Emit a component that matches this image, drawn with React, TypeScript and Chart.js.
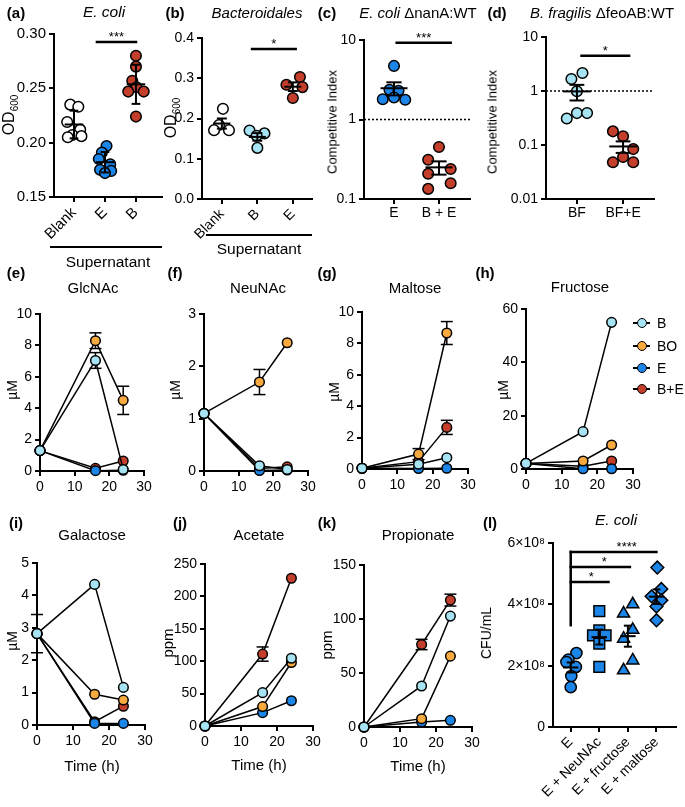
import React, { useEffect, useRef } from 'react';
import { Chart, registerables } from 'chart.js';

Chart.register(...registerables);

const W = 685;
const H = 807;
const FONT = "'Liberation Sans', Arial, Helvetica, sans-serif";

// ---------------- colours ----------------
const C_W = '#ffffff';
const C_B = '#a7e4f3';
const C_BO = '#f8aa3e';
const C_E = '#1b85e8';
const C_BE = '#c43f2b';

// ---------------- data: panel (a) ----------------
const catsA = ['Blank', 'E', 'B'];
const ticksA = [0.15, 0.2, 0.25, 0.3];
const aBlank = [0.235, 0.233, 0.219, 0.212, 0.207, 0.206, 0.205];
const aBlankJit = [-0.12, 0.14, -0.22, 0.2, -0.05, 0.24, -0.2];
const aE = [0.197, 0.191, 0.185, 0.18, 0.175, 0.174, 0.172];
const aEJit = [0.05, -0.1, -0.2, 0.17, -0.16, 0.2, 0.0];
const aB = [0.28, 0.27, 0.257, 0.251, 0.247, 0.247, 0.224];
const aBJit = [0, 0, -0.12, 0.02, -0.25, 0.25, 0];

// ---------------- data: panel (b) ----------------
const catsB = ['Blank', 'B', 'E'];
const ticksB = [0, 0.1, 0.2, 0.3, 0.4];
const bBlank = [0.224, 0.184, 0.171, 0.171];
const bBlankJit = [0.03, -0.08, -0.22, 0.2];
const bB = [0.17, 0.163, 0.127, 0.157];
const bBJit = [-0.22, 0.2, 0, -0.02];
const bE = [0.303, 0.284, 0.278, 0.251];
const bEJit = [0.2, -0.18, 0.27, 0.0];

// ---------------- data: panel (c) ----------------
const catsC = ['E', 'B + E'];
const ticksC = [0.1, 1, 10];
const cE = [4.72, 2.36, 2.3, 1.8, 1.89, 1.77];
const cEJit = [0, -0.1, 0.1, -0.25, 0, 0.25];
const cBE = [0.45, 0.312, 0.238, 0.208, 0.158, 0.134];
const cBEJit = [0, -0.24, 0.26, -0.24, 0.26, -0.24];

// ---------------- data: panel (d) ----------------
const catsD = ['BF', 'BF+E'];
const ticksD = [0.01, 0.1, 1, 10];
const dBF = [1.67, 2.15, 0.99, 0.31, 0.39, 0.39];
const dBFJit = [-0.12, 0.12, 0, -0.22, 0, 0.22];
const dBFE = [0.179, 0.145, 0.084, 0.06, 0.048, 0.048];
const dBFEJit = [-0.22, 0, 0.22, 0, -0.22, 0.22];

// ---------------- data: time courses (e)-(k) ----------------
const times = [0, 16, 24];
const timeTicks = [0, 10, 20, 30];
const seriesNames = ['B', 'BO', 'E', 'B+E'];

const glcB = [1.3, 7.04, 0.1];
const glcBO = [1.3, 8.3, 4.5];
const glcE = [1.3, 0.02, 0.05];
const glcBE = [1.3, 0.17, 0.64];
const glcBOErr = [0, 0.5, 0.9];
const glcBErr = [0, 0.5, 0];
const glcTicks = [0, 2, 4, 6, 8, 10];

const neuB = [1.1, 0.1, 0.03];
const neuBO = [1.1, 1.7, 2.45];
const neuE = [1.1, 0.01, 0.02];
const neuBE = [1.1, 0.05, 0.08];
const neuBOErr = [0, 0.24, 0];
const neuTicks = [0, 1, 2, 3];

const malB = [0.05, 0.3, 0.72];
const malBO = [0.05, 0.95, 8.66];
const malE = [0.05, 0.03, 0.05];
const malBE = [0.05, 0.47, 2.65];
const malBOErr = [0, 0.35, 0.73];
const malBEErr = [0, 0, 0.45];
const malTicks = [0, 2, 4, 6, 8, 10];

const fruB = [2.1, 14, 55];
const fruBO = [2.1, 3.0, 9.0];
const fruE = [2.1, 0.1, 0.1];
const fruBE = [2.1, 1.0, 3.0];
const fruTicks = [0, 20, 40, 60];

const galB = [2.82, 4.34, 1.16];
const galBO = [2.82, 0.95, 0.77];
const galE = [2.82, 0.05, 0.05];
const galBE = [2.82, 0.1, 0.58];
const galBErr = [0.59, 0, 0];
const galTicks = [0, 1, 2, 3, 4, 5];

const aceB = [0, 51.5, 104.6];
const aceBO = [0, 30, 98];
const aceE = [0, 20.6, 39];
const aceBE = [0, 111, 228];
const aceBEErr = [0, 11, 0];
const aceTicks = [0, 50, 100, 150, 200, 250];

const proB = [0, 38, 102.7];
const proBO = [0, 7.7, 65.6];
const proE = [0, 4.6, 6.2];
const proBE = [0, 76.4, 117.5];
const proBEErr = [0, 4.8, 5.5];
const proTicks = [0, 50, 100, 150];

// ---------------- data: panel (l) ----------------
const catsL = ['E', 'E + NeuNAc', 'E + fructose', 'E + maltose'];
const ticksL = [0, 2e8, 4e8, 6e8];
const ticksLLabels = ['0', '2×10⁸', '4×10⁸', '6×10⁸'];
const lE = [2.41e8, 2.2e8, 2.12e8, 1.96e8, 1.66e8, 1.3e8];
const lEJit = [0.2, -0.08, -0.15, 0.18, 0.02, 0.0];
const lNeu = [3.78e8, 3.15e8, 2.99e8, 2.99e8, 2.72e8, 1.96e8];
const lNeuJit = [0, 0, -0.22, 0.22, 0, 0];
const lFru = [4.0e8, 3.7e8, 3.17e8, 2.88e8, 2.17e8, 1.85e8];
const lFruJit = [0.17, -0.15, 0.17, -0.15, 0.17, -0.15];
const lMal = [5.2e8, 4.5e8, 4.26e8, 4.13e8, 3.93e8, 3.48e8];
const lMalJit = [0.03, 0.17, -0.17, 0.17, 0, 0];

// ---------------- types ----------------
type Rect = { l: number; t: number; r: number; b: number };
interface Group { values: number[]; jitter: number[]; fill: string; style: string; radius: number }
interface Sig { x1: number; x2: number; y: number; text: string; tx?: number }
interface ScatterSpec {
  rect: Rect; cats: string[]; xMin: number; xMax: number;
  yType: 'linear' | 'logarithmic'; yMin: number; yMax: number; yTicks: number[]; yLabel: (v: number) => string;
  rotate: boolean; tickSize: number; groups: Group[]; err: 'sd' | 'sem';
  sigs: Sig[]; ref?: number; leg?: { x: number; y1: number; y2: number };
  meanHalf: number; capHalf: number; xPad: number;
}
interface Series { values: number[]; err: number[]; color: string }
interface TimeSpec { rect: Rect; yMax: number; yTicks: number[]; series: Series[] }

const zero = [0, 0, 0];

const yWidth = (rc: Rect) => Math.min(rc.l, 52);
const xHeight = (rc: Rect) => Math.min(80, H - rc.b);

function padFor(rc: Rect) {
  return { left: rc.l - yWidth(rc), top: rc.t, right: W - rc.r, bottom: H - rc.b - xHeight(rc) };
}

const borderOpt = { display: true, color: '#000', width: 2 };
const gridOpt = { display: true, drawOnChartArea: false, drawTicks: true, tickLength: 5, color: '#000', lineWidth: 2 };

function seg(ctx: CanvasRenderingContext2D, x1: number, y1: number, x2: number, y2: number) {
  ctx.beginPath();
  ctx.moveTo(x1, y1);
  ctx.lineTo(x2, y2);
  ctx.stroke();
}

function scatterConfig(s: ScatterSpec): any {
  const datasets = s.groups.map((g, gi) => ({
    data: g.values.map((v, k) => ({ x: gi + g.jitter[k], y: v })),
    showLine: false,
    pointStyle: g.style,
    pointRadius: g.radius,
    pointBackgroundColor: g.fill,
    pointBorderColor: '#000',
    pointBorderWidth: 1.5,
    clip: false,
  }));
  const plugin = {
    id: 'scatterExtras',
    beforeDatasetsDraw(chart: any) {
      if (s.ref == null) return;
      const { ctx, chartArea, scales } = chart;
      const yp = scales.y.getPixelForValue(s.ref);
      ctx.save();
      ctx.strokeStyle = '#000';
      ctx.lineWidth = 1.5;
      ctx.setLineDash([2, 2]);
      seg(ctx, chartArea.left, yp, chartArea.right, yp);
      ctx.restore();
    },
    afterDatasetsDraw(chart: any) {
      const { ctx } = chart;
      const x = chart.scales.x;
      const y = chart.scales.y;
      ctx.save();
      ctx.strokeStyle = '#000';
      ctx.lineWidth = 2;
      s.groups.forEach((g, gi) => {
        const n = g.values.length;
        const mean = g.values.reduce((a, b) => a + b, 0) / n;
        const sd = Math.sqrt(g.values.reduce((a, b) => a + (b - mean) * (b - mean), 0) / (n - 1));
        const e = s.err === 'sd' ? sd : sd / Math.sqrt(n);
        const cx = x.getPixelForValue(gi);
        const mw = x.getPixelForValue(gi + s.meanHalf) - cx;
        const cw = x.getPixelForValue(gi + s.capHalf) - cx;
        const ym = y.getPixelForValue(mean);
        const yt = y.getPixelForValue(mean + e);
        const yb = y.getPixelForValue(mean - e);
        seg(ctx, cx - mw, ym, cx + mw, ym);
        seg(ctx, cx, yt, cx, yb);
        seg(ctx, cx - cw, yt, cx + cw, yt);
        seg(ctx, cx - cw, yb, cx + cw, yb);
      });
      ctx.lineWidth = 2.5;
      ctx.lineCap = 'square';
      if (s.leg) {
        const lx = x.getPixelForValue(s.leg.x);
        seg(ctx, lx, y.getPixelForValue(s.leg.y1), lx, y.getPixelForValue(s.leg.y2));
      }
      ctx.fillStyle = '#000';
      ctx.font = `13px ${FONT}`;
      ctx.textAlign = 'center';
      ctx.textBaseline = 'alphabetic';
      s.sigs.forEach((sg) => {
        const x1 = x.getPixelForValue(sg.x1);
        const x2 = x.getPixelForValue(sg.x2);
        const yp = y.getPixelForValue(sg.y);
        seg(ctx, x1, yp, x2, yp);
        const tx = sg.tx != null ? x.getPixelForValue(sg.tx) : (x1 + x2) / 2;
        ctx.fillText(sg.text, tx, yp - 1);
      });
      ctx.restore();
    },
  };
  return {
    type: 'scatter',
    data: { datasets },
    options: {
      responsive: false,
      animation: false,
      devicePixelRatio: 1,
      events: [],
      layout: { padding: padFor(s.rect) },
      plugins: { legend: { display: false }, tooltip: { enabled: false }, title: { display: false } },
      scales: {
        x: {
          type: 'linear',
          min: s.xMin,
          max: s.xMax,
          border: borderOpt,
          grid: gridOpt,
          ticks: {
            color: '#000',
            font: { family: FONT, size: s.tickSize },
            autoSkip: false,
            padding: s.xPad,
            minRotation: s.rotate ? 45 : 0,
            maxRotation: s.rotate ? 45 : 0,
            callback: (v: number) => s.cats[Math.round(v)] ?? '',
          },
          afterBuildTicks: (ax: any) => { ax.ticks = s.cats.map((_, i) => ({ value: i })); },
          afterFit: (ax: any) => { ax.height = xHeight(s.rect); },
        },
        y: {
          type: s.yType,
          min: s.yMin,
          max: s.yMax,
          border: borderOpt,
          grid: gridOpt,
          ticks: {
            color: '#000',
            font: { family: FONT, size: s.tickSize },
            autoSkip: false,
            padding: 3,
            callback: (v: number) => s.yLabel(v),
          },
          afterBuildTicks: (ax: any) => { ax.ticks = s.yTicks.map((v) => ({ value: v })); },
          afterFit: (ax: any) => { ax.width = yWidth(s.rect); },
        },
      },
    },
    plugins: [plugin],
  };
}

function timeConfig(t: TimeSpec): any {
  const datasets = t.series.map((s) => ({
    data: times.map((tm, k) => ({ x: tm, y: s.values[k] })),
    borderColor: '#000',
    borderWidth: 1.5,
    tension: 0,
    fill: false,
    pointRadius: 4.8,
    pointBackgroundColor: s.color,
    pointBorderColor: '#000',
    pointBorderWidth: 1.5,
    clip: false,
  }));
  const plugin = {
    id: 'errBars',
    beforeDatasetsDraw(chart: any) {
      const { ctx } = chart;
      const x = chart.scales.x;
      const y = chart.scales.y;
      ctx.save();
      ctx.strokeStyle = '#000';
      ctx.lineWidth = 1.5;
      t.series.forEach((s) =>
        s.err.forEach((e, k) => {
          if (!e) return;
          const cx = x.getPixelForValue(times[k]);
          const yt = y.getPixelForValue(s.values[k] + e);
          const yb = y.getPixelForValue(s.values[k] - e);
          seg(ctx, cx, yt, cx, yb);
          seg(ctx, cx - 6, yt, cx + 6, yt);
          seg(ctx, cx - 6, yb, cx + 6, yb);
        })
      );
      ctx.restore();
    },
  };
  return {
    type: 'line',
    data: { datasets },
    options: {
      responsive: false,
      animation: false,
      devicePixelRatio: 1,
      events: [],
      layout: { padding: padFor(t.rect) },
      plugins: { legend: { display: false }, tooltip: { enabled: false }, title: { display: false } },
      scales: {
        x: {
          type: 'linear',
          min: 0,
          max: 30,
          border: borderOpt,
          grid: gridOpt,
          ticks: { color: '#000', font: { family: FONT, size: 14 }, autoSkip: false, padding: 3, maxRotation: 0, minRotation: 0 },
          afterBuildTicks: (ax: any) => { ax.ticks = timeTicks.map((v) => ({ value: v })); },
          afterFit: (ax: any) => { ax.height = xHeight(t.rect); },
        },
        y: {
          type: 'linear',
          min: 0,
          max: t.yMax,
          border: borderOpt,
          grid: gridOpt,
          ticks: { color: '#000', font: { family: FONT, size: 14 }, autoSkip: false, padding: 3 },
          afterBuildTicks: (ax: any) => { ax.ticks = t.yTicks.map((v) => ({ value: v })); },
          afterFit: (ax: any) => { ax.width = yWidth(t.rect); },
        },
      },
    },
    plugins: [plugin],
  };
}

function four(b: number[], bo: number[], e: number[], be: number[], errs: number[][]): Series[] {
  return [
    { values: b, err: errs[0], color: C_B },
    { values: bo, err: errs[1], color: C_BO },
    { values: e, err: errs[2], color: C_E },
    { values: be, err: errs[3], color: C_BE },
  ];
}

const fmt2 = (v: number) => v.toFixed(2);
const fmt1 = (v: number) => v.toFixed(1);
const fmtLog = (v: number) => String(v);
const fmtL = (v: number) => ticksLLabels[ticksL.indexOf(v)] ?? '';

const configs: (() => any)[] = [
  () => scatterConfig({
    rect: { l: 54, t: 34, r: 162, b: 197 }, cats: catsA, xMin: -0.645, xMax: 2.84,
    yType: 'linear', yMin: 0.15, yMax: 0.3, yTicks: ticksA, yLabel: fmt2, rotate: true, tickSize: 15,
    groups: [
      { values: aBlank, jitter: aBlankJit, fill: C_W, style: 'circle', radius: 5.3 },
      { values: aE, jitter: aEJit, fill: C_E, style: 'circle', radius: 5.3 },
      { values: aB, jitter: aBJit, fill: C_BE, style: 'circle', radius: 5.3 },
    ],
    err: 'sd', sigs: [{ x1: 0.74, x2: 2.0, y: 0.2926, text: '***' }], meanHalf: 0.3, capHalf: 0.14, xPad: 2,
  }),
  () => scatterConfig({
    rect: { l: 202, t: 38, r: 312, b: 199 }, cats: catsB, xMin: -0.56, xMax: 2.54,
    yType: 'linear', yMin: 0, yMax: 0.4, yTicks: ticksB, yLabel: fmt1, rotate: true, tickSize: 14,
    groups: [
      { values: bBlank, jitter: bBlankJit, fill: C_W, style: 'circle', radius: 5.3 },
      { values: bB, jitter: bBJit, fill: C_B, style: 'circle', radius: 5.3 },
      { values: bE, jitter: bEJit, fill: C_BE, style: 'circle', radius: 5.3 },
    ],
    err: 'sem', sigs: [{ x1: 0.85, x2: 2.08, y: 0.3727, text: '*' }], meanHalf: 0.24, capHalf: 0.14, xPad: 2,
  }),
  () => scatterConfig({
    rect: { l: 364, t: 40, r: 470, b: 199 }, cats: catsC, xMin: -0.667, xMax: 1.69,
    yType: 'logarithmic', yMin: 0.1, yMax: 10, yTicks: ticksC, yLabel: fmtLog, rotate: false, tickSize: 14,
    groups: [
      { values: cE, jitter: cEJit, fill: C_E, style: 'circle', radius: 5.3 },
      { values: cBE, jitter: cBEJit, fill: C_BE, style: 'circle', radius: 5.3 },
    ],
    err: 'sem', sigs: [{ x1: 0.06, x2: 1.26, y: 9.26, text: '***' }], ref: 1, meanHalf: 0.3, capHalf: 0.17, xPad: 1,
  }),
  () => scatterConfig({
    rect: { l: 546, t: 37, r: 654, b: 199 }, cats: catsD, xMin: -0.67, xMax: 1.67,
    yType: 'logarithmic', yMin: 0.01, yMax: 10, yTicks: ticksD, yLabel: fmtLog, rotate: false, tickSize: 14,
    groups: [
      { values: dBF, jitter: dBFJit, fill: C_B, style: 'circle', radius: 5.3 },
      { values: dBFE, jitter: dBFEJit, fill: C_BE, style: 'circle', radius: 5.3 },
    ],
    err: 'sem', sigs: [{ x1: 0.1, x2: 1.13, y: 4.5, text: '*' }], ref: 1, meanHalf: 0.3, capHalf: 0.16, xPad: 1,
  }),
  () => timeConfig({ rect: { l: 40, t: 314, r: 144, b: 471 }, yMax: 10, yTicks: glcTicks,
    series: four(glcB, glcBO, glcE, glcBE, [glcBErr, glcBOErr, zero, zero]) }),
  () => timeConfig({ rect: { l: 204, t: 314, r: 308, b: 471 }, yMax: 3, yTicks: neuTicks,
    series: four(neuB, neuBO, neuE, neuBE, [zero, neuBOErr, zero, zero]) }),
  () => timeConfig({ rect: { l: 362, t: 312, r: 468, b: 469 }, yMax: 10, yTicks: malTicks,
    series: four(malB, malBO, malE, malBE, [zero, malBOErr, zero, malBEErr]) }),
  () => timeConfig({ rect: { l: 526, t: 309, r: 633, b: 469 }, yMax: 60, yTicks: fruTicks,
    series: four(fruB, fruBO, fruE, fruBE, [zero, zero, zero, zero]) }),
  () => timeConfig({ rect: { l: 37, t: 563, r: 145, b: 725 }, yMax: 5, yTicks: galTicks,
    series: four(galB, galBO, galE, galBE, [galBErr, zero, zero, zero]) }),
  () => timeConfig({ rect: { l: 205, t: 564, r: 313, b: 726 }, yMax: 250, yTicks: aceTicks,
    series: four(aceB, aceBO, aceE, aceBE, [zero, zero, zero, aceBEErr]) }),
  () => timeConfig({ rect: { l: 364, t: 565, r: 472, b: 727 }, yMax: 150, yTicks: proTicks,
    series: four(proB, proBO, proE, proBE, [zero, zero, zero, proBEErr]) }),
  () => scatterConfig({
    rect: { l: 553, t: 543, r: 682, b: 727 }, cats: catsL, xMin: -0.62, xMax: 3.68,
    yType: 'linear', yMin: 0, yMax: 6e8, yTicks: ticksL, yLabel: fmtL, rotate: true, tickSize: 14,
    groups: [
      { values: lE, jitter: lEJit, fill: C_E, style: 'circle', radius: 5.6 },
      { values: lNeu, jitter: lNeuJit, fill: C_E, style: 'rect', radius: 7.6 },
      { values: lFru, jitter: lFruJit, fill: C_E, style: 'triangle', radius: 7 },
      { values: lMal, jitter: lMalJit, fill: C_E, style: 'rectRot', radius: 6.4 },
    ],
    err: 'sem',
    sigs: [
      { x1: 0, x2: 3.0, y: 5.71e8, text: '****', tx: 1.96 },
      { x1: 0, x2: 2.07, y: 5.22e8, text: '*', tx: 1.17 },
      { x1: 0, x2: 1.32, y: 4.73e8, text: '*', tx: 0.72 },
    ],
    leg: { x: 0, y1: 3.32e8, y2: 5.71e8 },
    meanHalf: 0.27, capHalf: 0.14, xPad: 2,
  }),
];

function ChartCanvas({ make }: { make: () => any }) {
  const ref = useRef<HTMLCanvasElement>(null);
  useEffect(() => {
    const chart = new Chart(ref.current as HTMLCanvasElement, make());
    return () => chart.destroy();
  }, [make]);
  return (
    <canvas
      ref={ref}
      width={W}
      height={H}
      style={{ position: 'absolute', left: 0, top: 0, width: W, height: H, pointerEvents: 'none' }}
    />
  );
}

function T({ x, y, size = 14, bold = false, italic = false, rot = false, children }: any) {
  return (
    <div
      style={{
        position: 'absolute',
        left: x,
        top: y,
        transform: `translate(-50%, -50%)${rot ? ' rotate(-90deg)' : ''}`,
        fontFamily: FONT,
        fontSize: size,
        fontWeight: bold ? 700 : 400,
        fontStyle: italic ? 'italic' : 'normal',
        whiteSpace: 'nowrap',
        lineHeight: 1,
        color: '#000',
      }}
    >
      {children}
    </div>
  );
}

function HLine({ x1, x2, y }: { x1: number; x2: number; y: number }) {
  return <div style={{ position: 'absolute', left: x1, top: y - 1, width: x2 - x1, height: 2, background: '#000' }} />;
}

const legendColors = [C_B, C_BO, C_E, C_BE];
const legendRows = [323, 346, 368, 389];

function Legend() {
  return (
    <>
      {seriesNames.map((name, i) => (
        <React.Fragment key={name}>
          <div style={{ position: 'absolute', left: 633, top: legendRows[i] - 0.75, width: 17, height: 1.5, background: '#000' }} />
          <div
            style={{
              position: 'absolute', left: 642 - 5.5, top: legendRows[i] - 5.5, width: 8, height: 8,
              borderRadius: '50%', border: '1.5px solid #000', background: legendColors[i],
            }}
          />
          <div
            style={{
              position: 'absolute', left: 657, top: legendRows[i], transform: 'translateY(-50%)',
              fontFamily: FONT, fontSize: 14, lineHeight: 1, whiteSpace: 'nowrap', color: '#000',
            }}
          >
            {name}
          </div>
        </React.Fragment>
      ))}
    </>
  );
}

const OD = (
  <span>
    OD<span style={{ fontSize: 10, position: 'relative', top: 4 }}>600</span>
  </span>
);

export default function App() {
  return (
    <div style={{ position: 'absolute', left: 0, top: 0, width: W, height: H, background: '#fff', overflow: 'hidden' }}>
      {configs.map((c, i) => (
        <ChartCanvas key={i} make={c} />
      ))}

      {/* panel letters */}
      <T x={16} y={12} size={15} bold>(a)</T>
      <T x={175} y={12} size={15} bold>(b)</T>
      <T x={327} y={12} size={15} bold>(c)</T>
      <T x={497} y={12} size={15} bold>(d)</T>
      <T x={16} y={272} size={15} bold>(e)</T>
      <T x={175} y={272} size={15} bold>(f)</T>
      <T x={327} y={272} size={15} bold>(g)</T>
      <T x={485} y={272} size={15} bold>(h)</T>
      <T x={16} y={522} size={15} bold>(i)</T>
      <T x={180} y={522} size={15} bold>(j)</T>
      <T x={327} y={522} size={15} bold>(k)</T>
      <T x={490} y={522} size={15} bold>(l)</T>

      {/* titles */}
      <T x={104} y={12} size={15.5} italic>E. coli</T>
      <T x={257} y={12} size={15} italic>Bacteroidales</T>
      <T x={418} y={12} size={15}><i>E. coli</i> ΔnanA:WT</T>
      <T x={602} y={12} size={15}><i>B. fragilis</i> ΔfeoAB:WT</T>
      <T x={93} y={287} size={15}>GlcNAc</T>
      <T x={258} y={287} size={15}>NeuNAc</T>
      <T x={415} y={287} size={15}>Maltose</T>
      <T x={580} y={286} size={15}>Fructose</T>
      <T x={92} y={534} size={15}>Galactose</T>
      <T x={259} y={534} size={15}>Acetate</T>
      <T x={418} y={534} size={15}>Propionate</T>
      <T x={616} y={520} size={15.5} italic>E. coli</T>

      {/* y-axis titles */}
      <T x={9} y={115} size={16} rot>{OD}</T>
      <T x={171} y={118} size={16} rot>{OD}</T>
      <T x={332} y={122} size={13} rot>Competitive Index</T>
      <T x={492} y={122} size={13} rot>Competitive Index</T>
      <T x={12} y={390} size={14} rot>µM</T>
      <T x={175} y={390} size={14} rot>µM</T>
      <T x={334} y={392} size={14} rot>µM</T>
      <T x={503} y={390} size={14} rot>µM</T>
      <T x={12} y={641} size={14} rot>µM</T>
      <T x={167} y={643} size={15} rot>ppm</T>
      <T x={326} y={645} size={15} rot>ppm</T>
      <T x={486} y={633} size={14} rot>CFU/mL</T>

      {/* x-axis titles */}
      <T x={92} y={765} size={15}>Time (h)</T>
      <T x={259} y={764} size={15}>Time (h)</T>
      <T x={418} y={765} size={15}>Time (h)</T>

      {/* supernatant brackets */}
      <HLine x1={50} x2={162} y={247} />
      <T x={108} y={262} size={15.5}>Supernatant</T>
      <HLine x1={206} x2={312} y={235} />
      <T x={259} y={249} size={15.5}>Supernatant</T>

      <Legend />
    </div>
  );
}
